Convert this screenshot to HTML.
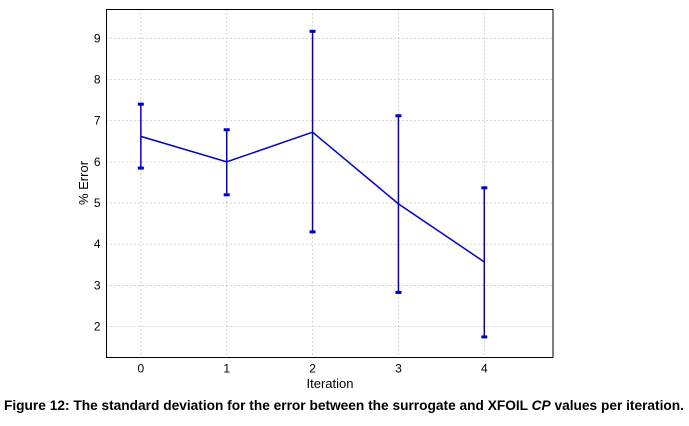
<!DOCTYPE html>
<html><head><meta charset="utf-8"><style>
body{margin:0;background:#fff;width:689px;height:421px;overflow:hidden;font-family:"Liberation Sans",sans-serif}
</style></head><body>
<svg id="chart" width="689" height="421" xmlns="http://www.w3.org/2000/svg">
<g id="grid"></g>
<g id="axes"></g>
<g id="series"></g>
<text x="330" y="388" font-size="13" text-anchor="middle" fill="#000">Iteration</text>
<text transform="translate(88,183) rotate(-90)" font-size="13" text-anchor="middle" fill="#000">% Error</text>
<text x="344" y="410" font-size="13.6" font-weight="bold" text-anchor="middle" fill="#000" textLength="680" lengthAdjust="spacingAndGlyphs">Figure 12: The standard deviation for the error between the surrogate and XFOIL <tspan font-style="italic">CP</tspan> values per iteration.</text>
</svg>
<script>
const iterations=[0,1,2,3,4];
const meanError=[6.62,6.0,6.72,4.98,3.57];
const upperError=[7.4,6.78,9.17,7.12,5.37];
const lowerError=[5.85,5.2,4.3,2.83,1.75];
const xTicks=[0,1,2,3,4];
const yTicks=[2,3,4,5,6,7,8,9];
const L=106.5,R=553,T=9.5,B=357.5;
const xMin=-0.4,xMax=4.8,yMin=1.25,yMax=9.7;
const sx=v=>L+(v-xMin)/(xMax-xMin)*(R-L);
const sy=v=>B-(v-yMin)/(yMax-yMin)*(B-T);
const NS="http://www.w3.org/2000/svg";
function mk(tag,parent,attrs){const e=document.createElementNS(NS,tag);for(const k in attrs)e.setAttribute(k,attrs[k]);document.getElementById(parent).appendChild(e);return e;}
xTicks.forEach(t=>{
 const g=mk('line','grid',{x1:sx(t),x2:sx(t),y1:T,y2:B,stroke:'#999','stroke-width':0.8,'stroke-dasharray':'1,3'});
 
 
 const tx=mk('text','axes',{x:sx(t),y:B+15,'font-size':12,'text-anchor':'middle',fill:'#000'});tx.textContent=t;
 
 
});
yTicks.forEach(t=>{
 const g=mk('line','grid',{x1:L,x2:R,y1:sy(t),y2:sy(t),stroke:'#999','stroke-width':0.8,'stroke-dasharray':'1,3'});
 
 
 const tx=mk('text','axes',{x:L-6,y:sy(t)+4,'font-size':12,'text-anchor':'end',fill:'#000'});tx.textContent=t;
 
 
});
const fr=mk('rect','axes',{x:L,y:T,width:R-L,height:B-T,fill:'none',stroke:'#000','stroke-width':1});


const ln=mk('polyline','series',{points:iterations.map((x,i)=>sx(x)+','+sy(meanError[i])).join(' '),fill:'none',stroke:'#0000cc','stroke-width':1.5});


iterations.forEach((x,i)=>{
 const e=mk('line','series',{x1:sx(x),x2:sx(x),y1:sy(upperError[i]),y2:sy(lowerError[i]),stroke:'#0000cc','stroke-width':1.5});
 
 
 [upperError[i],lowerError[i]].forEach(v=>{
  const c=mk('rect','series',{x:sx(x)-3,y:sy(v)-1.5,width:6,height:3,fill:'#0000cc'});
  
  
 });
});
</script>
</body></html>
